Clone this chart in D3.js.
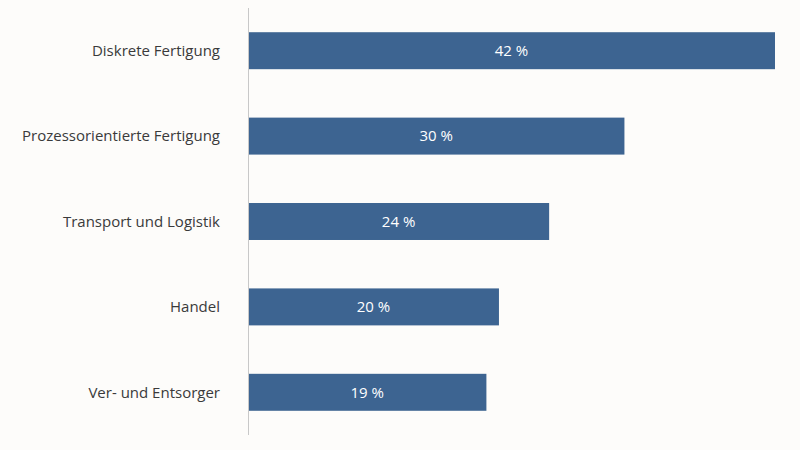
<!DOCTYPE html>
<html>
<head>
<meta charset="UTF-8">
<script src="https://d3js.org/d3.v7.min.js"></script>
<style>
  body { margin: 0; background: #fdfcfa; }
  text { font-family: "Open Sans", sans-serif; }
</style>
</head>
<body>
<svg width="800" height="450"></svg>
<script>
var categories = ["Diskrete Fertigung", "Prozessorientierte Fertigung", "Transport und Logistik", "Handel", "Ver- und Entsorger"];
var values = [42, 30, 24, 20, 19];

var svg = d3.select("svg");
var x = d3.scaleLinear().domain([0, 42]).range([248, 775]);
var y = d3.scaleBand().domain(categories).range([8, 435]).paddingInner(0.567).paddingOuter(0.2835);

svg.append("rect").attr("width", 800).attr("height", 450).attr("fill", "#fdfcfa");

svg.selectAll(".bar").data(categories).enter().append("rect")
  .attr("x", x(0))
  .attr("y", function(d) { return y(d); })
  .attr("width", function(d, i) { return x(values[i]) - x(0); })
  .attr("height", y.bandwidth())
  .attr("fill", "#3d6491");

svg.selectAll(".val").data(categories).enter().append("text")
  .attr("x", function(d, i) { return (x(0) + x(values[i])) / 2; })
  .attr("y", function(d) { return y(d) + y.bandwidth() / 2; })
  .attr("dy", "0.35em")
  .attr("text-anchor", "middle")
  .attr("fill", "#ffffff")
  .attr("font-size", 15)
  .text(function(d, i) { return values[i] + " %"; });

svg.selectAll(".cat").data(categories).enter().append("text")
  .attr("x", 220)
  .attr("y", function(d) { return y(d) + y.bandwidth() / 2; })
  .attr("dy", "0.35em")
  .attr("text-anchor", "end")
  .attr("fill", "#3a3a3a")
  .attr("font-size", 15)
  .text(function(d) { return d; });

svg.append("line")
  .attr("x1", 248.5).attr("x2", 248.5)
  .attr("y1", 8).attr("y2", 435)
  .attr("stroke", "#c8c8c8").attr("stroke-width", 1);
</script>
</body>
</html>
